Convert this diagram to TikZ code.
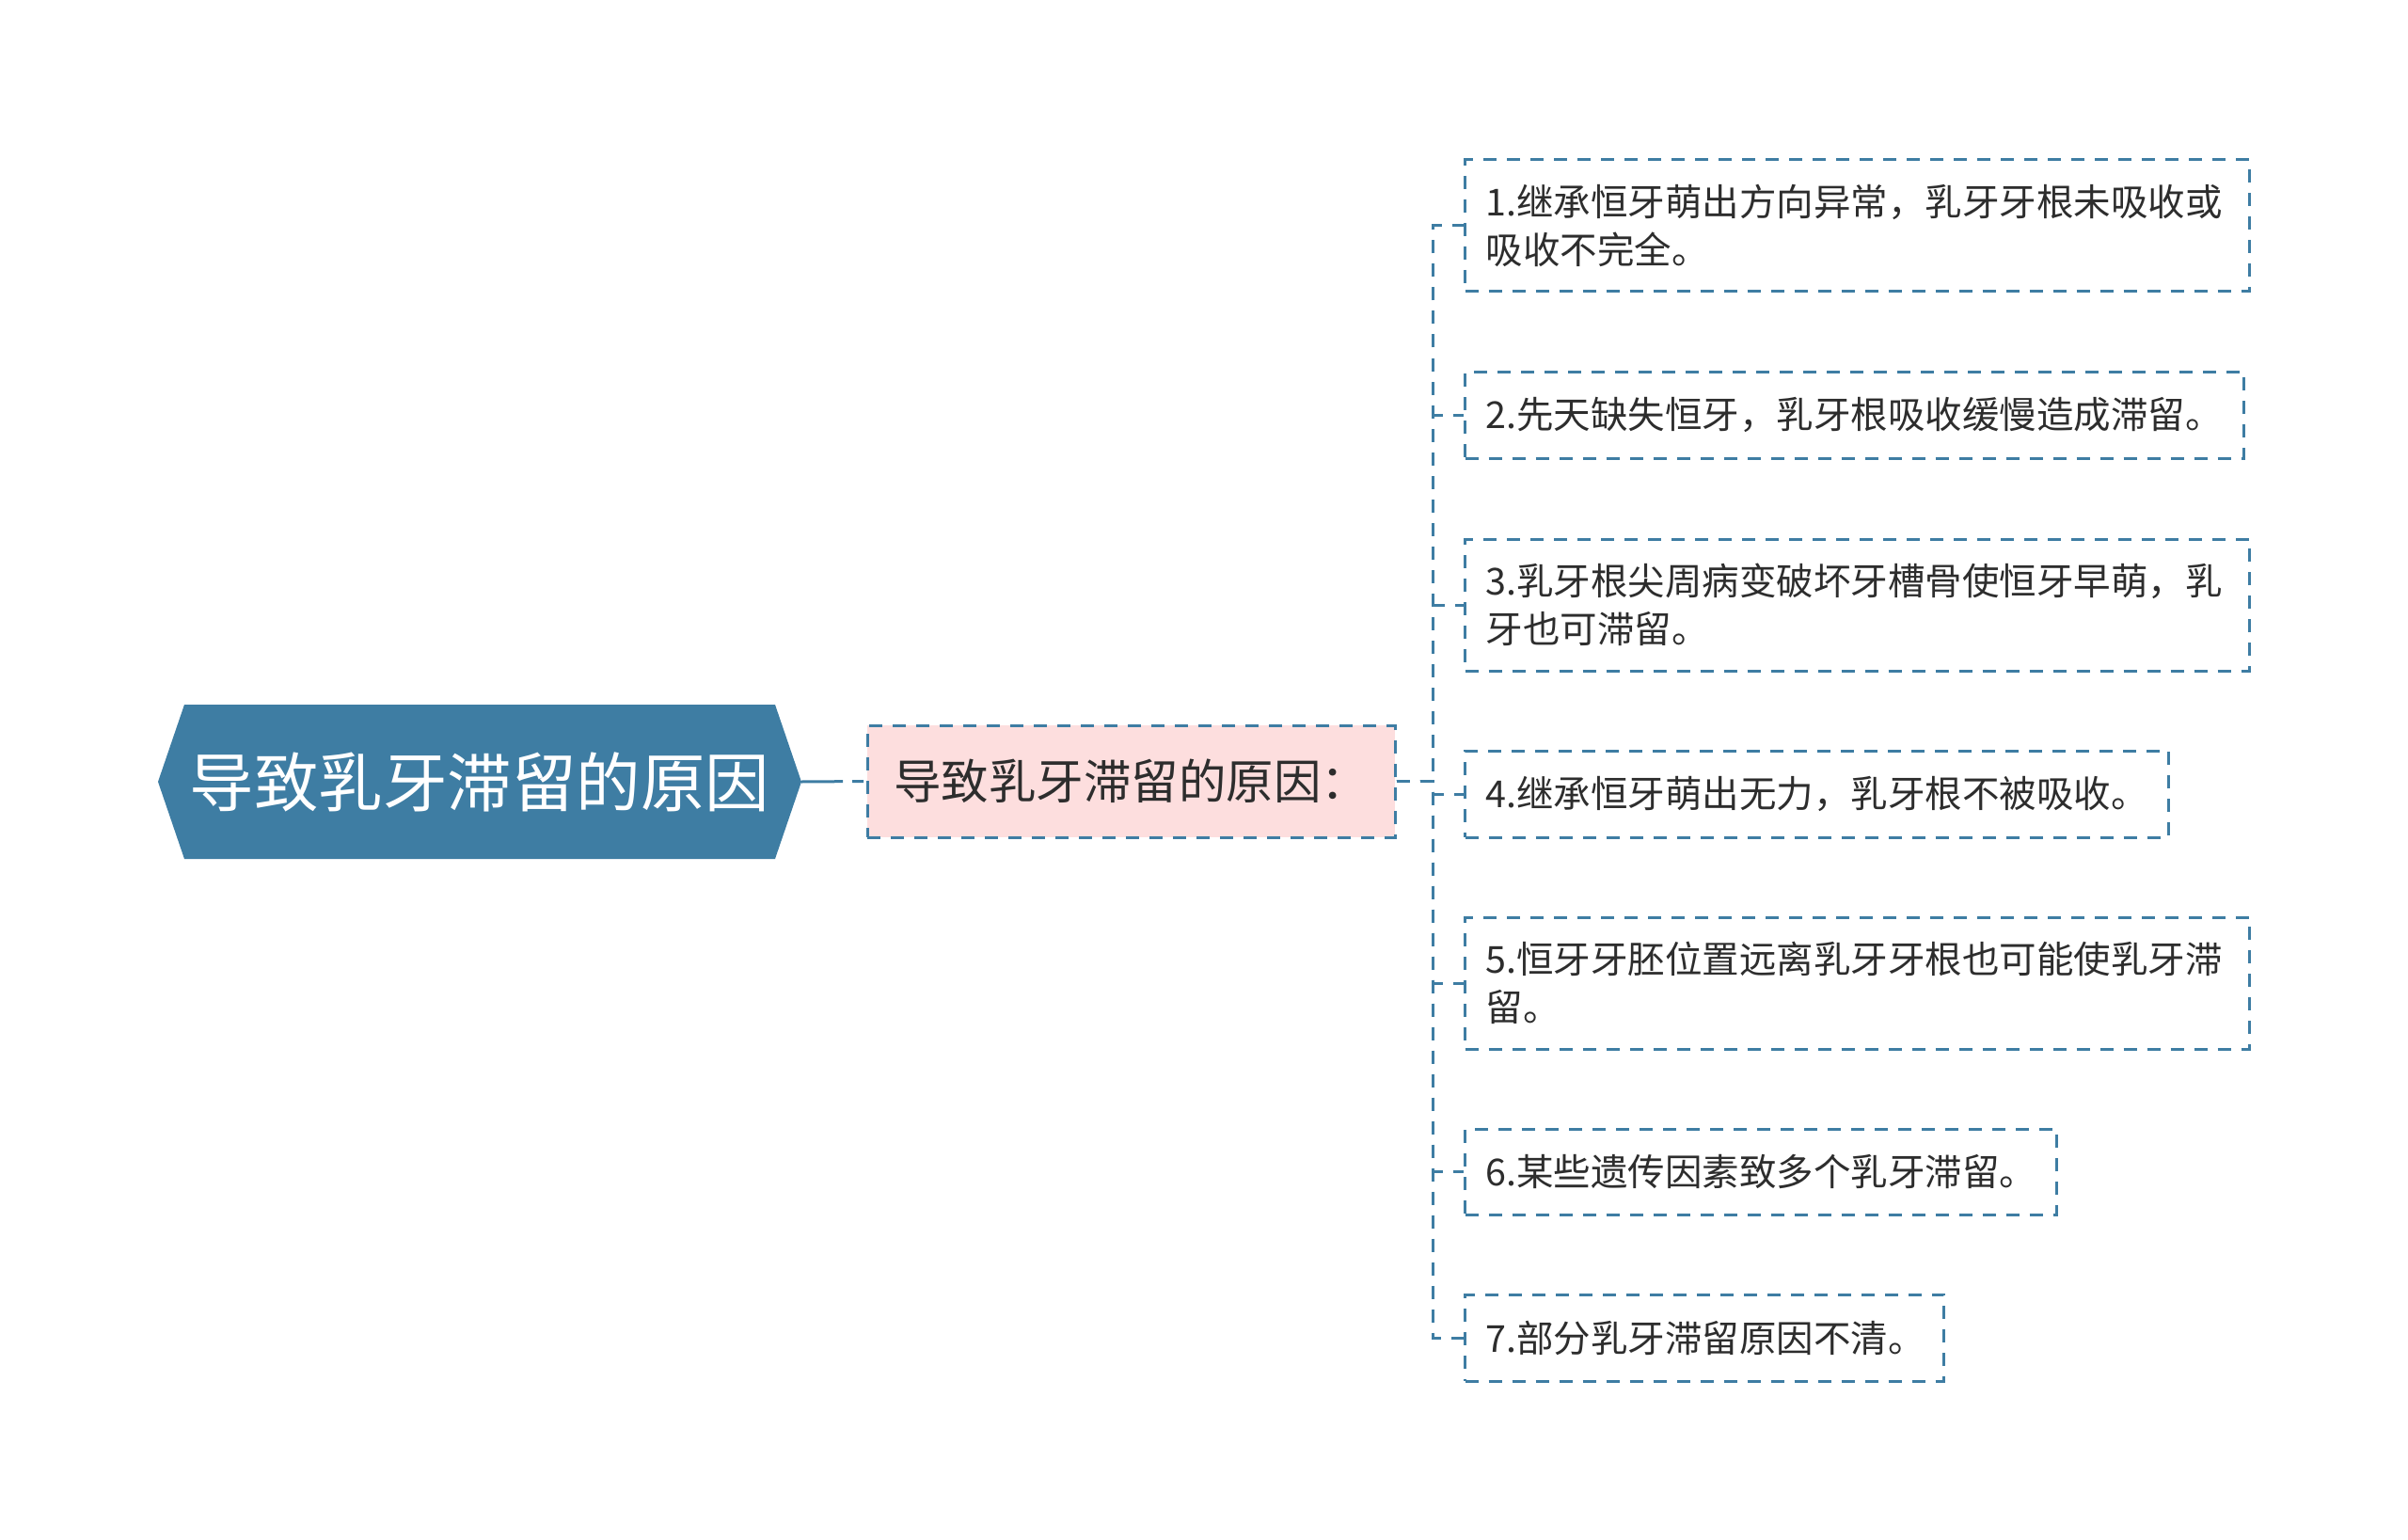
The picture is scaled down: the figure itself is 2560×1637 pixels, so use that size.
\documentclass[tikz,border=0pt]{standalone}
\usepackage{fontspec}
\newfontfamily\cjk{Noto Sans CJK SC}
\definecolor{rootblue}{RGB}{62,125,163}
\definecolor{pinkfill}{RGB}{253,222,222}
\definecolor{txt}{RGB}{45,45,45}
\begin{document}
\begin{tikzpicture}[x=1pt,y=-1pt,
  dline/.style={draw=rootblue,line width=3pt,dash pattern=on 14pt off 11pt},
  rootnode/.style={font=\cjk\fontsize{68.5}{72}\selectfont,text=white,minimum width=684pt,minimum height=164pt,inner sep=0pt},
  midnode/.style={dline,fill=pinkfill,font=\cjk\fontsize{50.5}{56}\selectfont,text=txt,minimum width=561pt,minimum height=119pt,inner sep=0pt},
  leaf/.style={dline,anchor=west,font=\cjk\fontsize{39.5}{51}\selectfont,text=txt,align=left,inner xsep=22pt,inner ysep=0pt}
]
\useasboundingbox (0,0) rectangle (2560,1637);
\fill[white] (0,0) rectangle (2560,1637);
% root hexagon
\fill[rootblue] (168,831) -- (196,749) -- (824,749) -- (852,831) -- (824,913) -- (196,913) -- cycle;
\node[rootnode] (root) at (510,831) {导致乳牙滞留的原因};
\node[midnode] (mid) at (1202.5,830.5) {导致乳牙滞留的原因：};
% leaves
\node[leaf,text width=790pt,minimum height=140pt] (l1) at (1556,240) {1.继承恒牙萌出方向异常，乳牙牙根未吸收或\\吸收不完全。};
\node[leaf,text width=784pt,minimum height=92pt] (l2) at (1556,441) {2.先天缺失恒牙，乳牙根吸收缓慢造成滞留。};
\node[leaf,text width=790pt,minimum height=140pt] (l3) at (1556,643) {3.乳牙根尖周病变破坏牙槽骨使恒牙早萌，乳\\牙也可滞留。};
\node[leaf,text width=704pt,minimum height=92pt] (l4) at (1556,844) {4.继承恒牙萌出无力，乳牙根不被吸收。};
\node[leaf,text width=790pt,minimum height=140pt] (l5) at (1556,1045) {5.恒牙牙胚位置远离乳牙牙根也可能使乳牙滞\\留。};
\node[leaf,text width=585pt,minimum height=91pt] (l6) at (1556,1245.5) {6.某些遗传因素致多个乳牙滞留。};
\node[leaf,text width=465pt,minimum height=92pt] (l7) at (1556,1422) {7.部分乳牙滞留原因不清。};
% connectors
\draw[rootblue,line width=3pt,dash pattern=on 44pt off 10pt on 12pt off 20pt] (root.east) -- (mid.west);
\foreach \n in {l1,l2,l3,l4,l5,l6,l7}{
  \draw[dline] (mid.east) -- ++(39,0) |- (\n.west);
}
\end{tikzpicture}
\end{document}
